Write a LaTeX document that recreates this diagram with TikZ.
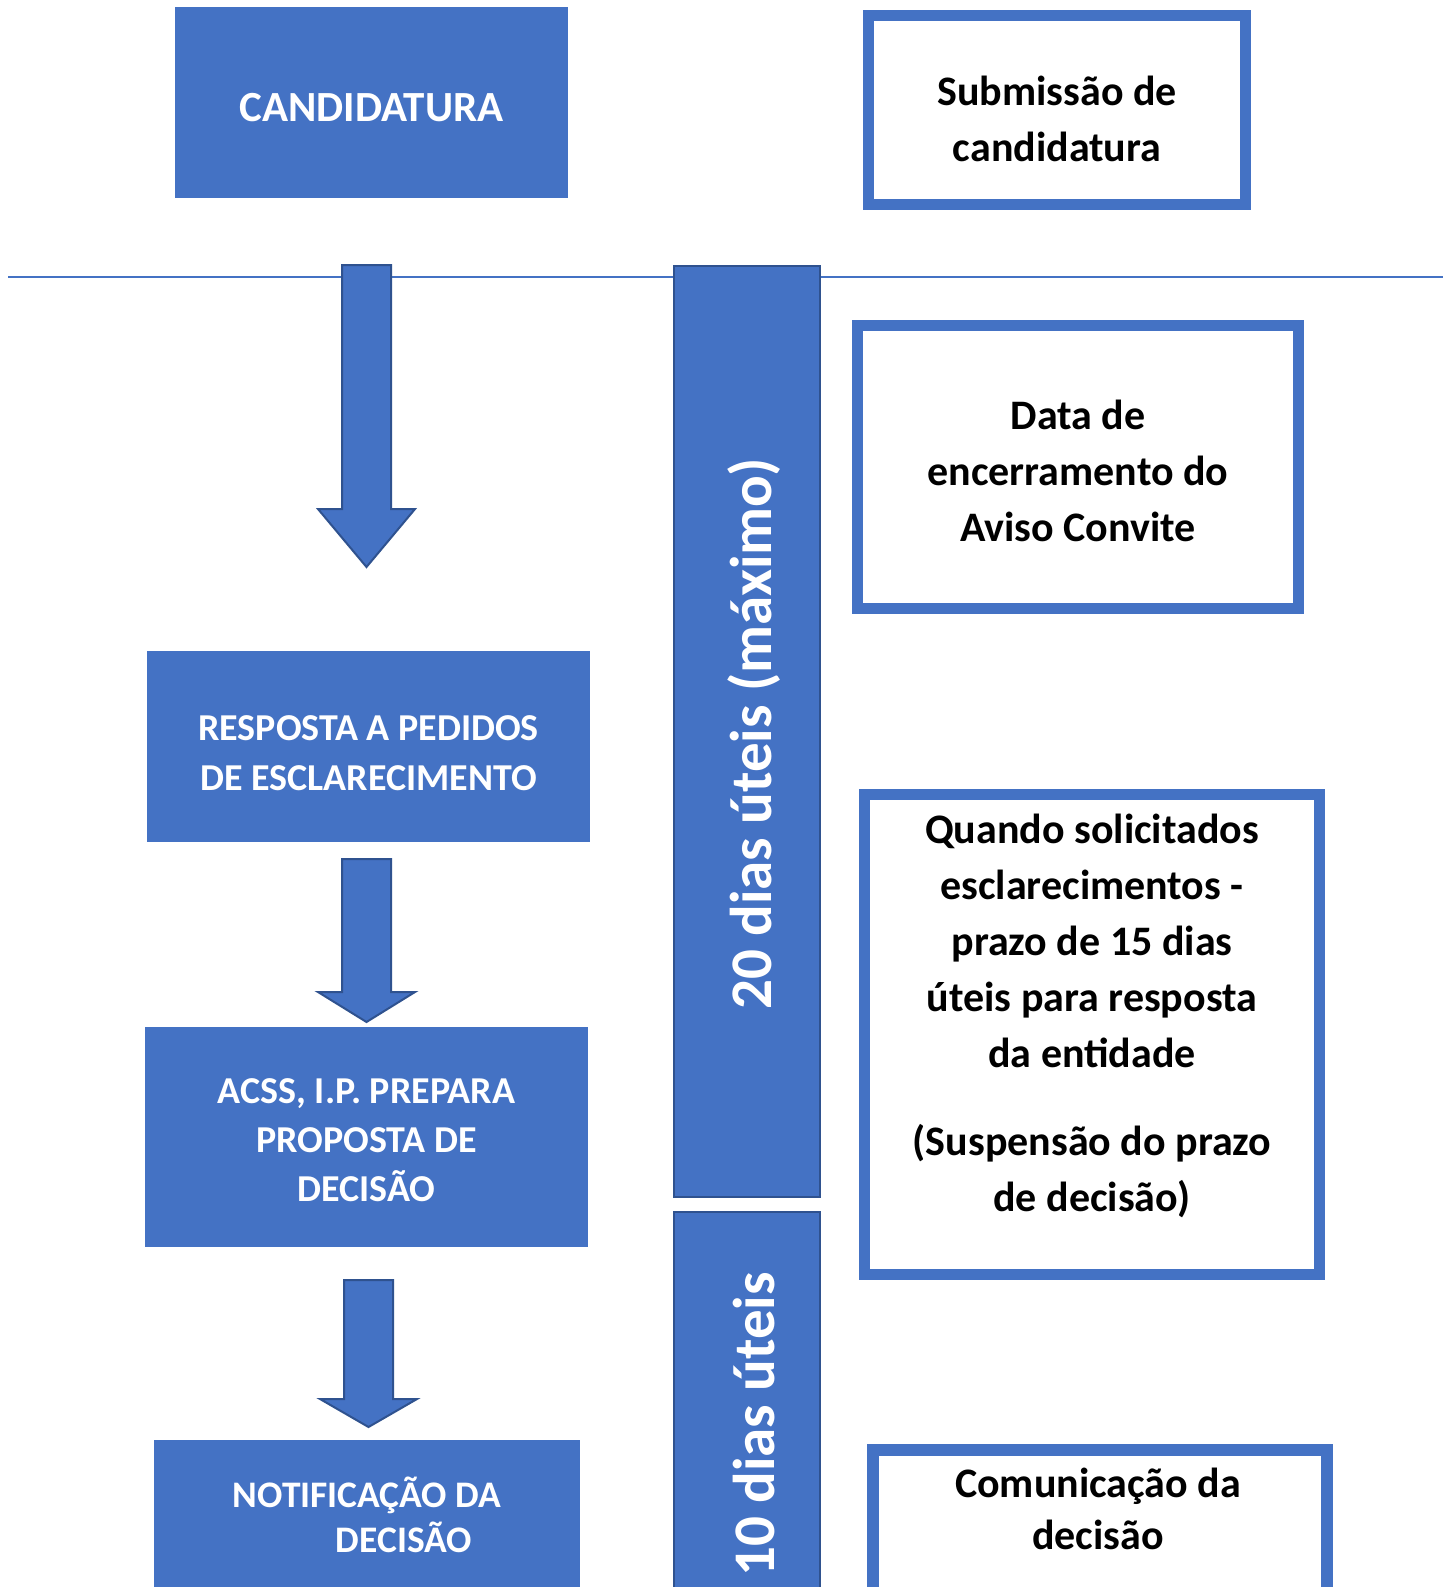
\documentclass[tikz,border=0pt]{standalone}
\usepackage{fontspec}
\setmainfont{Carlito}
\definecolor{officeblue}{HTML}{4472C4}
\definecolor{darkblue}{HTML}{2F528F}
\begin{document}
\begin{tikzpicture}[x=1pt,y=-1pt,
  fillbox/.style={rectangle, fill=officeblue, draw=none, inner sep=0pt},
  ltext/.style={text=white, align=center, inner sep=0pt, font=\bfseries\fontsize{38}{50}\selectfont},
  framebox/.style={rectangle, draw=officeblue, line width=11pt, fill=white, inner sep=0pt},
  bar/.style={rectangle, fill=officeblue, draw=darkblue, line width=2pt, inner sep=0pt},
  bartext/.style={text=white, rotate=90, font=\bfseries\fontsize{59}{60}\selectfont, inner sep=0pt},
  blockarrow/.style={fill=officeblue, draw=darkblue, line width=2pt, line join=miter},
  rtext/.style={align=center, inner sep=0pt, font=\bfseries\fontsize{42}{56}\selectfont}
]
\useasboundingbox (0,0) rectangle (1451,1587);
\clip (0,0) rectangle (1451,1587);
\fill[white] (0,0) rectangle (1451,1587);

% horizontal line
\coordinate (hl) at (8,277);
\coordinate (hr) at (1443,277);
\draw[officeblue, line width=2pt] (hl) -- (hr);

% left boxes
\node[fillbox, minimum width=393pt, minimum height=191pt] (cand) at (371.5,102.5) {};
\node[ltext, font=\bfseries\fontsize{43}{56}\selectfont] (candtext) at (371.5,107.5) {CANDIDATURA};
\node[fillbox, minimum width=443pt, minimum height=191pt] (resp) at (368.5,746.5) {};
\node[ltext] (resptext) at (368.5,753) {RESPOSTA A PEDIDOS\\DE ESCLARECIMENTO};
\node[fillbox, minimum width=443pt, minimum height=220pt] (acss) at (366.5,1137) {};
\node[ltext, font=\bfseries\fontsize{38}{49}\selectfont] (acsstext) at (366.5,1140) {ACSS, I.P. PREPARA\\PROPOSTA DE\\DECISÃO};
\node[fillbox, minimum width=426pt, minimum height=300pt, anchor=north] (notif) at (367,1440) {};
\node[ltext, font=\bfseries\fontsize{37.5}{45}\selectfont] (notiftext) at (367,1514.5) {NOTIFICAÇÃO DA\\\hspace*{74pt}DECISÃO};

% block arrows
\draw[blockarrow] (342,265) -- (391,265) -- (391,509) -- (415,509) -- (366.5,567) -- (318,509) -- (342,509) -- cycle;
\draw[blockarrow] (342,859) -- (391,859) -- (391,992) -- (415,992) -- (366.5,1022) -- (318,992) -- (342,992) -- cycle;
\draw[blockarrow] (344,1280) -- (393,1280) -- (393,1399) -- (417,1399) -- (368.5,1427) -- (320,1399) -- (344,1399) -- cycle;

% bars
\node[bar, minimum width=146pt, minimum height=931pt, anchor=north west] (bar1) at (673,265) {};
\node[bar, minimum width=146pt, minimum height=400pt, anchor=north west] (bar2) at (673,1211) {};
\node[bartext] (bar1text) at (754,734) {20 dias úteis (máximo)};
\node[bartext] (bar2text) at (754,1424.5) {10 dias úteis};

% right frame boxes
\node[framebox, minimum width=377pt, minimum height=189pt] (sub) at (1057,110) {};
\node[rtext] (subtext) at (1057,119) {Submissão de\\candidatura};
\node[framebox, minimum width=441pt, minimum height=283pt] (data) at (1078,467) {};
\node[rtext] (datatext) at (1078,471) {Data de\\encerramento do\\Aviso Convite};
\node[framebox, minimum width=455pt, minimum height=480pt] (quando) at (1092,1034.5) {};
\node[rtext] (quandotext) at (1092,1015.5) {Quando solicitados\\esclarecimentos -\\prazo de 15 dias\\úteis para resposta\\da entidade\\[32pt](Suspensão do prazo\\de decisão)};
\node[rectangle, draw=officeblue, line width=12pt, fill=white, minimum width=454pt, minimum height=300pt, anchor=north, inner sep=0pt] (com) at (1100,1444) {};
\node[rtext, font=\bfseries\fontsize{42}{52}\selectfont] (comtext) at (1098,1509) {Comunicação da\\decisão};
\end{tikzpicture}
\end{document}
